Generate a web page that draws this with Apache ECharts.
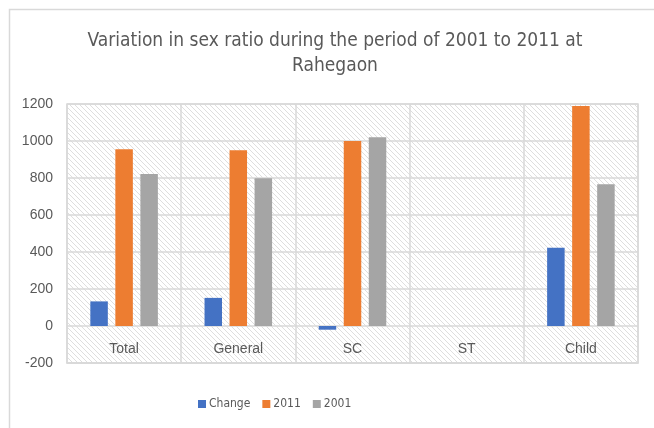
<!DOCTYPE html>
<html>
<head>
<meta charset="utf-8">
<script src="https://cdn.jsdelivr.net/npm/echarts@6/dist/echarts.min.js"></script>
<style>
html,body{margin:0;padding:0;background:#fff;}
#chart{width:654px;height:428px;}
</style>
</head>
<body>
<div id="chart"></div>
<script>
// Sex ratio by group, Rahegaon census 2001 and 2011
const categories = ['Total', 'General', 'SC', 'ST', 'Child'];
const change = [133, 152, -20, 0, 423];
const ratio2011 = [955, 950, 1000, 0, 1189];
const ratio2001 = [822, 798, 1020, 0, 766];
const yTicks = { min: -200, max: 1200, interval: 200 };

// light diagonal hatch used behind the plot area
function hatchPattern() {
  const s = 5;
  const c = document.createElement('canvas');
  c.width = s; c.height = s;
  const ctx = c.getContext('2d');
  ctx.fillStyle = '#ffffff';
  ctx.fillRect(0, 0, s, s);
  ctx.fillStyle = '#dedede';
  for (let y = 0; y < s; y++) {
    for (let x = 0; x < s; x++) {
      if (((x - y) % s + s) % s === 0) ctx.fillRect(x, y, 1, 1);
    }
  }
  return c;
}

const textColor = '#595959';
const lineColor = '#d9d9d9';
const narrowFont = '"DejaVu Sans Condensed", "Liberation Sans", sans-serif';
const chart = echarts.init(document.getElementById('chart'));

chart.setOption({
  backgroundColor: '#ffffff',
  animation: false,
  title: {
    text: 'Variation in sex ratio during the period of 2001 to 2011 at\nRahegaon',
    left: 330,
    top: 24,
    textAlign: 'center',
    textStyle: {
      fontFamily: narrowFont,
      fontWeight: 'normal',
      fontSize: 19,
      color: textColor,
      lineHeight: 25
    }
  },
  graphic: [{
    type: 'rect',
    left: 7, top: 7,
    shape: { width: 700, height: 500 },
    style: { fill: 'none', stroke: lineColor, lineWidth: 1.5 },
    silent: true
  }],
  legend: {
    left: 193,
    top: 393,
    itemWidth: 8,
    itemHeight: 8,
    itemGap: 12,
    icon: 'rect',
    textStyle: { fontFamily: narrowFont, fontSize: 12, color: textColor, padding: [0, 0, 0, -2] }
  },
  grid: {
    left: 67, right: 16, top: 104, bottom: 65,
    show: true,
    borderColor: lineColor,
    borderWidth: 1.5,
    backgroundColor: { image: hatchPattern(), repeat: 'repeat' }
  },
  xAxis: {
    type: 'category',
    data: categories,
    position: 'bottom',
    axisLine: { show: true, onZero: false, lineStyle: { color: lineColor, width: 1.5 } },
    axisTick: { show: false },
    splitLine: { show: true, lineStyle: { color: lineColor, width: 1.5 } },
    axisLabel: {
      inside: true,
      margin: 7,
      fontFamily: 'Liberation Sans',
      fontSize: 14,
      color: textColor
    }
  },
  yAxis: {
    type: 'value',
    min: yTicks.min,
    max: yTicks.max,
    interval: yTicks.interval,
    axisLine: { show: false },
    axisTick: { show: false },
    splitLine: { lineStyle: { color: lineColor, width: 1.5 } },
    axisLabel: {
      margin: 14,
      formatter: v => String(v),
      fontFamily: 'Liberation Sans',
      fontSize: 14,
      color: textColor
    }
  },
  series: [
    { name: 'Change', type: 'bar', data: change, barWidth: 17.5, barGap: '43%', itemStyle: { color: '#4472C4' } },
    { name: '2011', type: 'bar', data: ratio2011, barWidth: 17.5, barGap: '43%', itemStyle: { color: '#ED7D31' } },
    { name: '2001', type: 'bar', data: ratio2001, barWidth: 17.5, barGap: '43%', itemStyle: { color: '#A5A5A5' } }
  ]
});
</script>
</body>
</html>
